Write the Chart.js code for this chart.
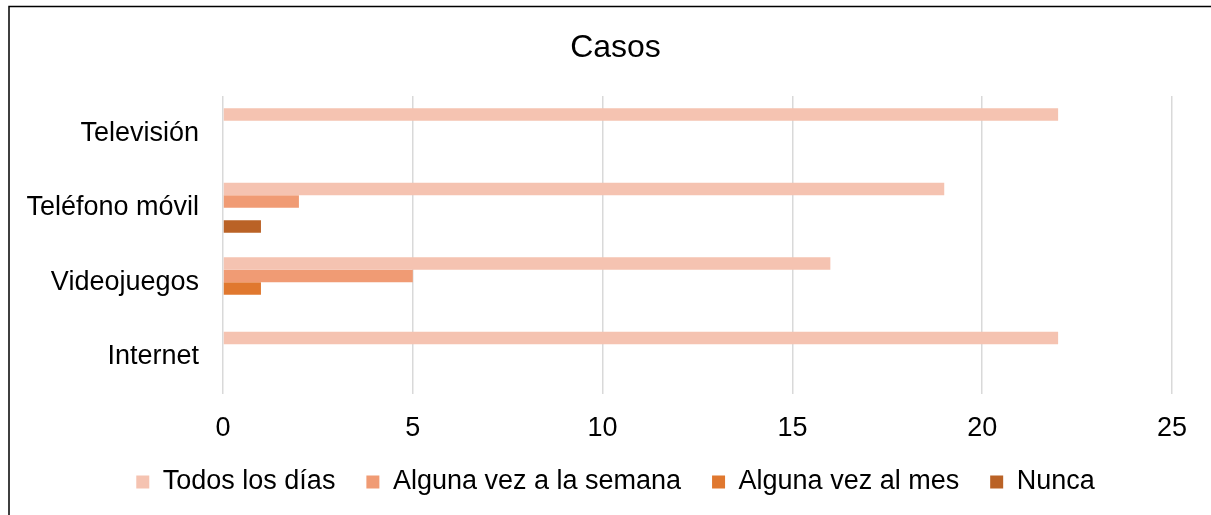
<!DOCTYPE html>
<html>
<head>
<meta charset="utf-8">
<script src="https://cdn.jsdelivr.net/npm/chart.js@4/dist/chart.umd.min.js"></script>
<style>
  html, body { margin: 0; padding: 0; background: #ffffff; }
  #wrap { width: 1211px; height: 515px; position: relative; }
</style>
</head>
<body>
<div id="wrap"><canvas id="c" width="1211" height="515"></canvas></div>
<script>
const categories = ["Televisión", "Teléfono móvil", "Videojuegos", "Internet"];
const seriesNames = ["Todos los días", "Alguna vez a la semana", "Alguna vez al mes", "Nunca"];
const todosLosDias = [22, 19, 16, 22];
const algunaVezSemana = [0, 2, 5, 0];
const algunaVezMes = [0, 0, 1, 0];
const nunca = [0, 1, 0, 0];
const xTicks = [0, 5, 10, 15, 20, 25];
const chartTitle = "Casos";

const colors = ["#F5C3B1", "#F09B74", "#E0782F", "#BA6226"];
const FONT = "'Liberation Sans', Arial, sans-serif";

const framePlugin = {
  id: 'frame',
  beforeDraw(chart) {
    const ctx = chart.ctx;
    ctx.save();
    ctx.strokeStyle = '#000000';
    ctx.lineWidth = 1.5;
    ctx.beginPath();
    ctx.moveTo(9, 515);
    ctx.lineTo(9, 6.5);
    ctx.lineTo(1211, 6.5);
    ctx.stroke();
    ctx.restore();
  }
};

const seriesValues = [todosLosDias, algunaVezSemana, algunaVezMes, nunca];

new Chart(document.getElementById('c'), {
  type: 'bar',
  data: {
    labels: categories,
    datasets: seriesNames.map((name, i) => ({
      label: name,
      data: seriesValues[i],
      xAxisID: 'x',
      yAxisID: 'y',
      backgroundColor: colors[i],
      borderWidth: 0,
      categoryPercentage: 0.67,
      barPercentage: 1.0
    }))
  },
  plugins: [framePlugin],
  options: {
    indexAxis: 'y',
    responsive: false,
    animation: false,
    devicePixelRatio: 1,
    layout: { padding: { left: 20, right: 0, top: 0, bottom: 9.5 } },
    scales: {
      x: {
        min: 0,
        max: 25,
        afterBuildTicks(scale) { scale.ticks = xTicks.map(v => ({ value: v })); },
        afterFit(scale) { scale.height = 43.5; },
        grid: { color: '#D9D9D9', lineWidth: 1.5, drawTicks: false },
        border: { display: false },
        ticks: { color: '#000000', padding: 18.5, font: { family: FONT, size: 27 } }
      },
      y: {
        afterFit(scale) { scale.width = 203; },
        grid: { display: false, drawTicks: false },
        border: { display: false },
        ticks: { color: '#000000', padding: 24, font: { family: FONT, size: 27 } }
      },
      ySpacer: {
        type: 'linear',
        axis: 'y',
        position: 'right',
        display: true,
        afterFit(scale) { scale.width = 39; },
        grid: { display: false, drawTicks: false },
        border: { display: false },
        ticks: { display: false }
      }
    },
    plugins: {
      title: {
        display: true,
        text: chartTitle,
        color: '#000000',
        font: { family: FONT, size: 32, weight: 'normal', lineHeight: 1.2 },
        padding: { top: 28.8, bottom: 28.8 }
      },
      legend: {
        position: 'bottom',
        labels: {
          color: '#000000',
          boxWidth: 13,
          boxHeight: 13,
          padding: 31,
          font: { family: FONT, size: 27 }
        }
      },
      tooltip: { enabled: false }
    }
  }
});
</script>
</body>
</html>
